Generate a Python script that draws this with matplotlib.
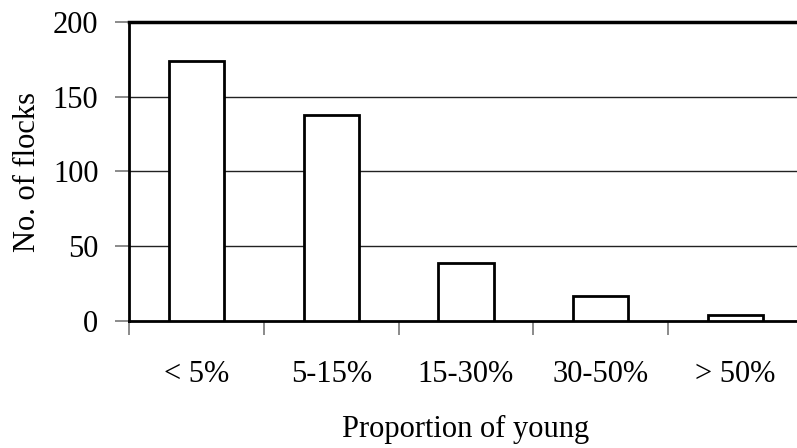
import matplotlib
matplotlib.use('Agg')
import matplotlib.pyplot as plt
import numpy as np

categories = ['< 5%', '5-15%', '15-30%', '30-50%', '> 50%']
flocks = [174, 138, 39, 17, 4]
yticks = [0, 50, 100, 150, 200]

plt.rcParams['font.family'] = ['Liberation Serif', 'DejaVu Serif']

fig = plt.figure(figsize=(7.97, 4.48), dpi=100)
ax = fig.add_axes([129 / 797, 127 / 448, 674 / 797, 299 / 448])

x = np.arange(len(categories))
ax.bar(x, flocks, width=0.41, color='white', edgecolor='black', linewidth=2, zorder=3)

ax.set_xlim(-0.5, len(categories) - 0.5)
ax.set_ylim(0, 200)
ax.set_yticks(yticks)
ax.set_yticklabels([str(v) for v in yticks], fontsize=22)

# gridlines at 50/100/150, heavier line on top
for v in yticks[1:-1]:
    ax.axhline(v, color='#222222', linewidth=1, zorder=1)
ax.axhline(200, color='black', linewidth=2.5, zorder=2, clip_on=False)

ax.set_xticks(x)
ax.set_xticklabels(categories, fontsize=22)
ax.tick_params(axis='x', which='major', length=0, pad=28)
ax.set_xticks(np.arange(len(categories) + 1) - 0.5, minor=True)
ax.tick_params(axis='x', which='minor', length=10, width=1.2, color='#777777', direction='out')
ax.tick_params(axis='y', length=10, width=1.2, color='#777777', direction='out', pad=12)

for s in ['top', 'right']:
    ax.spines[s].set_visible(False)
ax.spines['left'].set_linewidth(2)
ax.spines['bottom'].set_linewidth(2)

ax.set_ylabel('No. of flocks', fontsize=22, labelpad=8)
ax.set_xlabel('Proportion of young', fontsize=22, labelpad=19)

fig.savefig('out.png', dpi=100)
